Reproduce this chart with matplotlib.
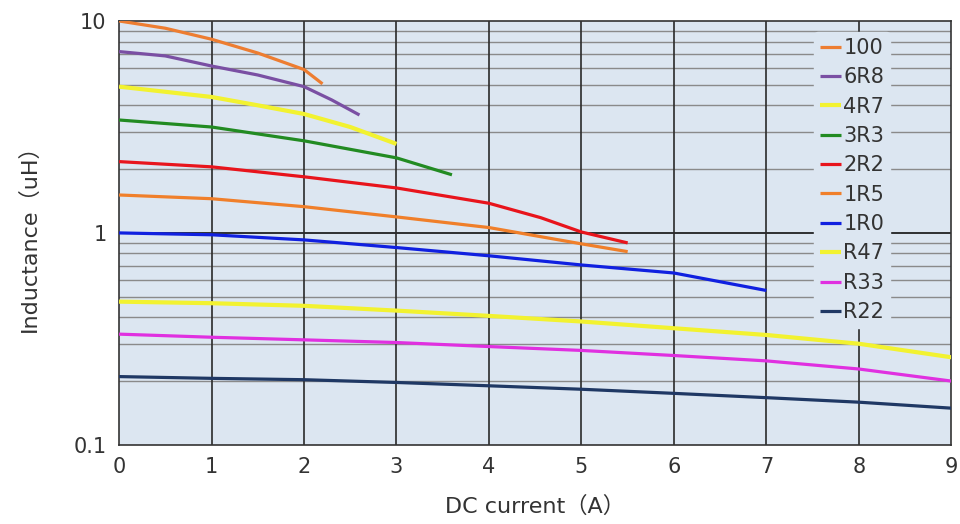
import matplotlib
matplotlib.use('Agg')
import matplotlib.pyplot as plt
from matplotlib.ticker import FixedLocator, NullFormatter

plt.rcParams['font.family'] = ['DejaVu Sans', 'Noto Sans CJK JP']

# Inductance vs DC current
names = ['100', '6R8', '4R7', '3R3', '2R2', '1R5', '1R0', 'R47', 'R33', 'R22']
colors = ['#ED7D31', '#7A4FA3', '#F2F230', '#228B22', '#E8141C',
          '#F07F2A', '#1020E0', '#F2F230', '#E030E0', '#1F3864']

x_100 = [0, 0.5, 1, 1.5, 2, 2.2]
y_100 = [10.0, 9.24, 8.2, 7.06, 5.9, 5.05]
x_6r8 = [0, 0.5, 1, 1.5, 2, 2.3, 2.6]
y_6r8 = [7.17, 6.84, 6.13, 5.56, 4.9, 4.24, 3.6]
x_4r7 = [0, 1, 1.5, 2, 2.5, 3]
y_4r7 = [4.9, 4.38, 4.0, 3.64, 3.16, 2.63]
x_3r3 = [0, 1, 2, 3, 3.6]
y_3r3 = [3.41, 3.16, 2.72, 2.26, 1.88]
x_2r2 = [0, 1, 2, 3, 4, 4.56, 5, 5.5]
y_2r2 = [2.17, 2.05, 1.84, 1.63, 1.38, 1.18, 1.01, 0.897]
x_1r5 = [0, 1, 2, 3, 4, 5, 5.5]
y_1r5 = [1.51, 1.45, 1.33, 1.19, 1.06, 0.888, 0.816]
x_1r0 = [0, 1, 2, 3, 4, 5, 6, 7]
y_1r0 = [1.0, 0.98, 0.927, 0.853, 0.78, 0.706, 0.647, 0.535]
x_r47 = [0, 1, 2, 3, 4, 5, 6, 7, 8, 9]
y_r47 = [0.474, 0.466, 0.453, 0.43, 0.406, 0.382, 0.355, 0.33, 0.30, 0.259]
x_r33 = [0, 1, 2, 3, 4, 5, 6, 7, 8, 9]
y_r33 = [0.333, 0.322, 0.313, 0.304, 0.291, 0.279, 0.264, 0.249, 0.228, 0.200]
x_r22 = [0, 1, 2, 3, 4, 5, 6, 7, 8, 9]
y_r22 = [0.21, 0.206, 0.203, 0.197, 0.19, 0.183, 0.175, 0.167, 0.159, 0.149]

series_x = [x_100, x_6r8, x_4r7, x_3r3, x_2r2, x_1r5, x_1r0, x_r47, x_r33, x_r22]
series_y = [y_100, y_6r8, y_4r7, y_3r3, y_2r2, y_1r5, y_1r0, y_r47, y_r33, y_r22]

x_ticks = list(range(0, 10))
y_ticks = [0.1, 1, 10]
y_tick_labels = ['0.1', '1', '10']

BG = '#DCE6F1'

fig = plt.figure(figsize=(9.6, 5.24), dpi=100)
ax = fig.add_axes([0.124, 0.151, 0.867, 0.809])
ax.set_facecolor(BG)

# grid drawn by hand so major/minor styles differ
minor_vals = [m * d for d in (0.1, 1) for m in range(2, 10)]
for v in minor_vals:
    ax.axhline(v, color='#8A8A8A', linewidth=1.0, zorder=1)
ax.axhline(1, color='#111111', linewidth=1.2, zorder=1)
for xv in x_ticks[1:-1]:
    ax.axvline(xv, color='#2A2A2A', linewidth=1.2, zorder=1)

for name, c, xs, ys in zip(names, colors, series_x, series_y):
    lw = 3.0 if c == '#F2F230' else 2.3
    ax.plot(xs, ys, color=c, linewidth=lw, label=name, zorder=3,
            solid_capstyle='butt')

ax.set_yscale('log')
ax.set_xlim(0, 9)
ax.set_ylim(0.1, 10)
ax.set_xticks(x_ticks)
ax.yaxis.set_major_locator(FixedLocator(y_ticks))
ax.set_yticklabels(y_tick_labels)
ax.yaxis.set_minor_formatter(NullFormatter())
ax.tick_params(which='both', length=0, labelsize=15, colors='#333333')
ax.tick_params(axis='x', pad=9)
ax.tick_params(axis='y', pad=9)

for s in ax.spines.values():
    s.set_color('#333333')
    s.set_linewidth(1.2)

ax.set_xlabel('DC current（A）', fontsize=16, color='#333333', labelpad=13)
ax.set_ylabel('Inductance（uH）', fontsize=16, color='#333333', labelpad=24)

leg = ax.legend(loc='upper left', bbox_to_anchor=(0.835, 0.975), frameon=True,
                fontsize=15, handlelength=1.0, handletextpad=0.1,
                labelspacing=0.45, borderpad=0.3, borderaxespad=0)
leg.get_frame().set_facecolor(BG)
leg.get_frame().set_edgecolor(BG)
leg.get_frame().set_alpha(1)
leg.set_zorder(5)
for t in leg.get_texts():
    t.set_color('#333333')

plt.savefig('out.png', dpi=100)
